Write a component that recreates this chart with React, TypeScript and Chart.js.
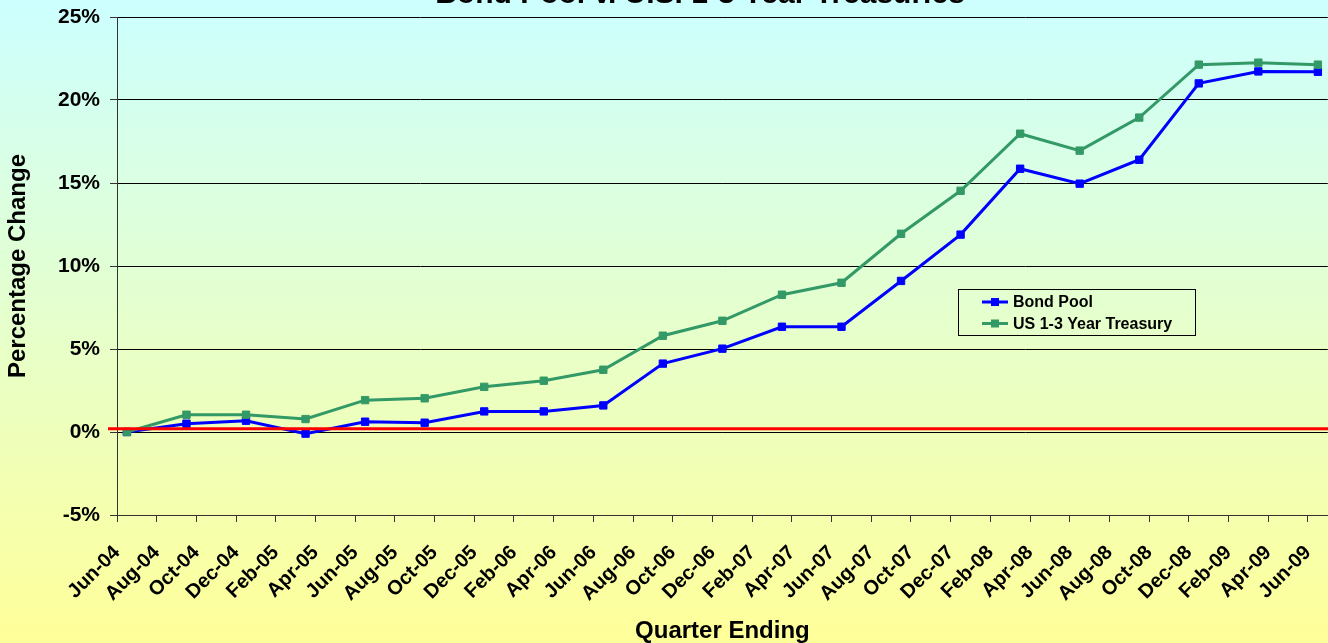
import React, { useEffect, useRef } from 'react';
import { Chart, registerables } from 'chart.js';

Chart.register(...registerables);

const chartTitle = 'Bond Pool v. U.S. 1-3 Year Treasuries';
const xAxisTitle = 'Quarter Ending';
const yAxisTitle = 'Percentage Change';

const quarterLabels = [
  'Jun-04', 'Sep-04', 'Dec-04', 'Mar-05', 'Jun-05', 'Sep-05', 'Dec-05', 'Mar-06', 'Jun-06', 'Sep-06', 'Dec-06',
  'Mar-07', 'Jun-07', 'Sep-07', 'Dec-07', 'Mar-08', 'Jun-08', 'Sep-08', 'Dec-08', 'Mar-09', 'Jun-09',
];
const bondPool = [0.0, 0.5, 0.68, -0.1, 0.62, 0.56, 1.24, 1.24, 1.6, 4.12, 5.02, 6.34, 6.34, 9.1, 11.89, 15.86, 14.96, 16.4, 21.0, 21.72, 21.7];
const treasury = [0.0, 1.04, 1.04, 0.78, 1.92, 2.03, 2.72, 3.09, 3.75, 5.8, 6.7, 8.27, 8.99, 11.94, 14.53, 17.97, 16.95, 18.94, 22.13, 22.25, 22.13];

const tickLabels = [
  'Jun-04', 'Aug-04', 'Oct-04', 'Dec-04', 'Feb-05', 'Apr-05', 'Jun-05', 'Aug-05', 'Oct-05', 'Dec-05', 'Feb-06',
  'Apr-06', 'Jun-06', 'Aug-06', 'Oct-06', 'Dec-06', 'Feb-07', 'Apr-07', 'Jun-07', 'Aug-07', 'Oct-07', 'Dec-07',
  'Feb-08', 'Apr-08', 'Jun-08', 'Aug-08', 'Oct-08', 'Dec-08', 'Feb-09', 'Apr-09', 'Jun-09',
];
const yMin = -5;
const yMax = 25;
const yStep = 5;
const referenceLine = 0.2;

const MONTHS = ['Jan', 'Feb', 'Mar', 'Apr', 'May', 'Jun', 'Jul', 'Aug', 'Sep', 'Oct', 'Nov', 'Dec'];
const monthIndex = (label: string) => {
  const [m, y] = label.split('-');
  return (Number(y) - 4) * 12 + MONTHS.indexOf(m) - 5;
};

const FONT = 'Arial, "Liberation Sans", sans-serif';
const BLUE = '#0000FF';
const GREEN = '#339966';

const backgroundPlugin = {
  id: 'bgGradient',
  beforeDraw(chart: any) {
    const { ctx, width, height } = chart;
    const g = ctx.createLinearGradient(0, 0, 0, height);
    g.addColorStop(0, '#CCFFFF');
    g.addColorStop(1, '#FFFF99');
    ctx.save();
    ctx.fillStyle = g;
    ctx.fillRect(0, 0, width, height);
    ctx.restore();
  },
};

const overlayPlugin = {
  id: 'overlay',
  afterDatasetsDraw(chart: any) {
    const { ctx, chartArea, scales } = chart;
    const y = scales.y.getPixelForValue(referenceLine);
    ctx.save();
    ctx.strokeStyle = '#FF0000';
    ctx.lineWidth = 3;
    ctx.beginPath();
    ctx.moveTo(chartArea.left - 9, y);
    ctx.lineTo(chart.width, y);
    ctx.stroke();
    ctx.restore();
  },
  afterDraw(chart: any) {
    const { ctx } = chart;
    ctx.save();
    // title (mostly cut off at the top)
    ctx.fillStyle = '#000';
    ctx.font = `bold 30px ${FONT}`;
    ctx.textAlign = 'center';
    ctx.textBaseline = 'alphabetic';
    ctx.fillText(chartTitle, 700, 3);

    // legend
    const bx = 958.5, by = 289.5, bw = 237, bh = 46;
    ctx.strokeStyle = '#000';
    ctx.lineWidth = 1;
    ctx.strokeRect(bx, by, bw, bh);
    ctx.font = `bold 16px ${FONT}`;
    ctx.textAlign = 'left';
    ctx.textBaseline = 'middle';
    chart.data.datasets.forEach((ds: any, i: number) => {
      const ry = 302 + i * 21.5;
      ctx.strokeStyle = ds.borderColor;
      ctx.lineWidth = 3;
      ctx.beginPath();
      ctx.moveTo(982, ry);
      ctx.lineTo(1008, ry);
      ctx.stroke();
      ctx.fillStyle = ds.pointBackgroundColor;
      ctx.fillRect(991, ry - 4, 8, 8);
      ctx.fillStyle = '#000';
      ctx.fillText(ds.label, 1013, ry + 1);
    });
    ctx.restore();
  },
};

export default function App() {
  const ref = useRef<HTMLCanvasElement | null>(null);

  useEffect(() => {
    if (!ref.current) return;
    const pts = (vals: number[]) => quarterLabels.map((l, i) => ({ x: monthIndex(l), y: vals[i] }));
    const chart = new Chart(ref.current, {
      type: 'line',
      data: {
        datasets: [
          {
            label: 'Bond Pool',
            data: pts(bondPool),
            borderColor: BLUE,
            backgroundColor: BLUE,
            pointBackgroundColor: BLUE,
            pointBorderColor: BLUE,
            borderWidth: 3,
            pointStyle: 'rect',
            pointRadius: 5.2,
            pointBorderWidth: 1,
            tension: 0,
            order: 1,
          },
          {
            label: 'US 1-3 Year Treasury',
            data: pts(treasury),
            borderColor: GREEN,
            backgroundColor: GREEN,
            pointBackgroundColor: GREEN,
            pointBorderColor: GREEN,
            borderWidth: 3,
            pointStyle: 'rect',
            pointRadius: 5.2,
            pointBorderWidth: 1,
            tension: 0,
            order: 0,
          },
        ],
      },
      options: {
        animation: false,
        responsive: false,
        devicePixelRatio: 1,
        layout: { padding: { top: 17, left: 0, right: 3, bottom: 0 } },
        plugins: {
          legend: { display: false },
          tooltip: { enabled: false },
          title: { display: false },
        },
        scales: {
          x: {
            type: 'linear',
            min: monthIndex(tickLabels[0]) - 0.5,
            max: monthIndex(quarterLabels[quarterLabels.length - 1]) + 0.5,
            afterBuildTicks: (scale: any) => {
              scale.ticks = tickLabels.map((l) => ({ value: monthIndex(l) - 0.5 }));
            },
            afterFit: (scale: any) => {
              scale.height = 128;
              scale.paddingLeft = 0;
              scale.paddingRight = 0;
              scale.paddingTop = 0;
              scale.paddingBottom = 0;
            },
            ticks: {
              autoSkip: false,
              minRotation: 45,
              maxRotation: 45,
              padding: 19,
              color: '#000',
              font: { family: FONT, size: 20, weight: 'bold' },
              callback: (_v: any, i: number) => tickLabels[i],
            },
            grid: {
              drawOnChartArea: false,
              drawTicks: true,
              tickLength: 7,
              tickColor: '#333',
              color: '#333',
            },
            border: { display: true, color: '#333', width: 1 },
            title: {
              display: true,
              text: xAxisTitle,
              color: '#000',
              font: { family: FONT, size: 24, weight: 'bold', lineHeight: 1 },
              padding: 0,
            },
          },
          y: {
            min: yMin,
            max: yMax,
            afterFit: (scale: any) => {
              scale.width = 117;
              scale.paddingLeft = 0;
              scale.paddingRight = 0;
              scale.paddingTop = 0;
              scale.paddingBottom = 0;
            },
            ticks: {
              stepSize: yStep,
              padding: 10,
              color: '#000',
              font: { family: FONT, size: 21, weight: 'bold' },
              callback: (v: any) => `${v}%`,
            },
            grid: {
              color: '#000',
              lineWidth: 1,
              tickLength: 7,
              tickColor: '#333',
            },
            border: { display: true, color: '#333', width: 1 },
            title: {
              display: true,
              text: yAxisTitle,
              color: '#000',
              font: { family: FONT, size: 24, weight: 'bold', lineHeight: 1 },
              padding: 6,
            },
          },
        },
      },
      plugins: [backgroundPlugin, overlayPlugin],
    } as any);
    return () => chart.destroy();
  }, []);

  return (
    <div style={{ position: 'fixed', top: 0, left: 0, width: 1328, height: 643, overflow: 'hidden' }}>
      <canvas ref={ref} width={1334} height={643} style={{ display: 'block', width: 1334, height: 643 }} />
    </div>
  );
}
